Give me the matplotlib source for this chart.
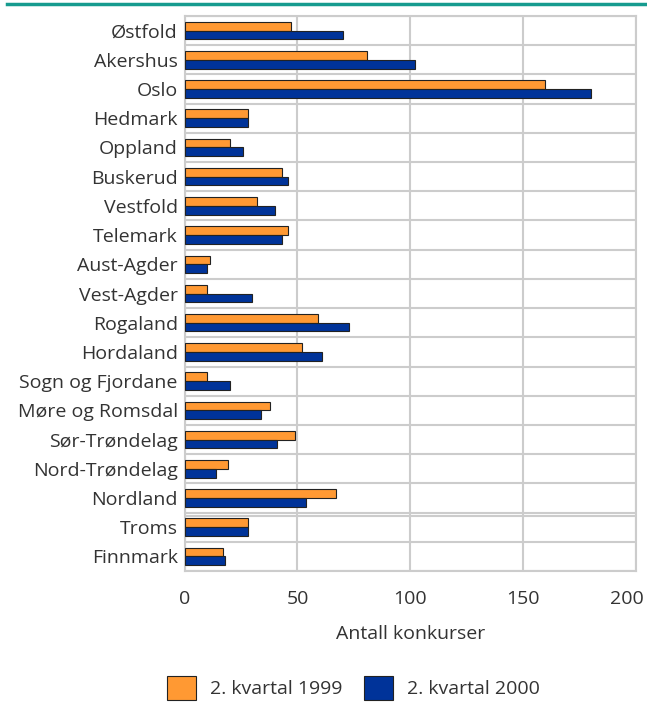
import matplotlib
matplotlib.use("Agg")
import matplotlib.pyplot as plt
import numpy as np
from matplotlib.patches import Patch
from matplotlib.lines import Line2D
import matplotlib.transforms as mtransforms

regions = ["Østfold", "Akershus", "Oslo", "Hedmark", "Oppland", "Buskerud", "Vestfold",
           "Telemark", "Aust-Agder", "Vest-Agder", "Rogaland", "Hordaland",
           "Sogn og Fjordane", "Møre og Romsdal", "Sør-Trøndelag", "Nord-Trøndelag",
           "Nordland", "Troms", "Finnmark"]
q2_1999 = [47, 81, 160, 28, 20, 43, 32, 46, 11, 10, 59, 52, 10, 38, 49, 19, 67, 28, 17]
q2_2000 = [70, 102, 180, 28, 26, 46, 40, 43, 10, 30, 73, 61, 20, 34, 41, 14, 54, 28, 18]
xticks = [0, 50, 100, 150, 200]
xlabel = "Antall konkurser"
labels = ["2. kvartal 1999", "2. kvartal 2000"]

plt.rcParams['font.family'] = ['Open Sans', 'DejaVu Sans']
txt = '#333333'
orange = '#FF9933'
blue = '#003399'
gridc = '#CCCCCC'
fs = 14

fig = plt.figure(figsize=(6.47, 7.02), dpi=100)
ax = fig.add_axes([0.2855, 0.1866, 0.697, 0.7906])

n = len(regions)
y = np.arange(n)
h = 0.3
ax.barh(y - h/2, q2_1999, height=h, color=orange, edgecolor='#222222', linewidth=0.8, zorder=3)
ax.barh(y + h/2, q2_2000, height=h, color=blue, edgecolor='#222222', linewidth=0.8, zorder=3)

ax.set_ylim(n - 0.5, -0.5)
ax.set_xlim(0, 200)
ax.set_yticks(y)
ax.set_yticklabels(regions, fontsize=fs, color=txt)
ax.set_yticks(np.arange(n + 1) - 0.5, minor=True)
ax.set_xticks(xticks)
ax.set_xticklabels([str(v) for v in xticks], fontsize=fs, color=txt)
ax.tick_params(axis='both', which='both', length=0)
ax.tick_params(axis='y', pad=5)
ax.tick_params(axis='x', pad=14)
ax.grid(axis='x', which='major', color=gridc, linewidth=1.5, zorder=0)
ax.grid(axis='y', which='minor', color=gridc, linewidth=1.5, zorder=0)
ax.axhline(16.5 + 0.1, color=gridc, linewidth=1.5, zorder=0)
for s in ax.spines.values():
    s.set_color(gridc)
    s.set_linewidth(1.5)
ax.set_xlabel(xlabel, fontsize=fs, color=txt, labelpad=12)

# shift the last x tick label slightly left to stay inside the figure
lbl = ax.get_xticklabels()[-1]
lbl.set_transform(lbl.get_transform() + mtransforms.ScaledTranslation(-9/100, 0, fig.dpi_scale_trans))

# top teal rule
fig.add_artist(Line2D([7/647, 1.0], [1 - 4/702, 1 - 4/702], color='#169B8F', linewidth=2.5))

handles = [Patch(facecolor=orange, edgecolor='#222222', linewidth=0.8),
           Patch(facecolor=blue, edgecolor='#222222', linewidth=0.8)]
fig.legend(handles, labels, loc='center', bbox_to_anchor=(0.546, 1 - 688/702),
           ncol=2, frameon=False, fontsize=fs, handlelength=1.5, handleheight=1.6,
           handletextpad=0.72, columnspacing=1.08, labelcolor=txt, borderpad=0)

fig.savefig("out.png", dpi=100)
